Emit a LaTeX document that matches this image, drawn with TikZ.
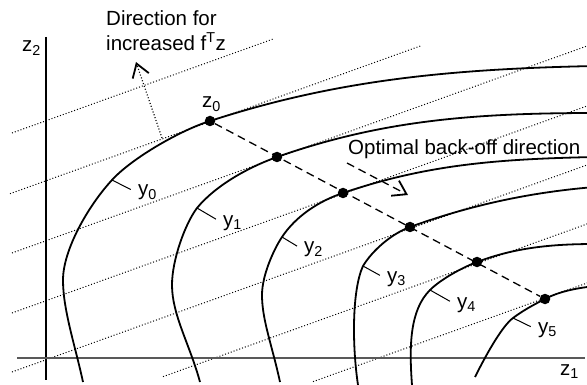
\documentclass[tikz,border=0pt]{standalone}
\usepackage{fontspec}
\setmainfont{Liberation Sans}
\usepackage{xcolor}
\usetikzlibrary{arrows.meta}
\definecolor{axisgray}{HTML}{595959}

\begin{document}
\begin{tikzpicture}[x=1pt, y=-1pt,
  lbl/.style={font=\fontsize{20.5}{25}\selectfont, inner sep=1pt},
  curve/.style={line width=1.8pt, line join=round},
  level/.style={line width=1pt, dash pattern=on 1pt off 2pt},
  dashline/.style={line width=1.3pt, dash pattern=on 8pt off 5pt},
  pt/.style={circle, fill, inner sep=0pt, minimum size=10.5pt},
  leader/.style={line width=1pt, shorten >=7pt},
  >={Straight Barb[length=13pt, width=17pt, line width=1.8pt]}]
\useasboundingbox (0,0) rectangle (587,385);
\clip (0,0) rectangle (587,385);
\foreach \c/\s/\e in {133/12/273, 193/10/422, 253/12/600, 313/12/600,
                      372/12/600, 431/163/600, 490/313/600}
  \draw[level] (\s,{\c-0.36*(\s-12)}) -- (\e,{\c-0.36*(\e-12)});
\draw[line width=1.4pt] (46,37) -- (46,380);
\draw[line width=2pt, axisgray] (17,358) -- (585,358);
\draw[curve] (83,382) .. controls (75,345) and (63,310) .. (63,280)
  .. controls (63,250) and (88,206) .. (112,180) coordinate (c0)
  .. controls (132,158) and (181,130) .. (210,121)
  .. controls (333,81) and (445,69) .. (595,66);
\draw[curve] (200,382) .. controls (190,345) and (172,315) .. (172,285)
  .. controls (172,260) and (185,224) .. (197,208) coordinate (c1)
  .. controls (216,185) and (249,167) .. (277,157)
  .. controls (380,121) and (470,113) .. (595,113);
\draw[curve] (280,382) .. controls (272,345) and (262,320) .. (262,295)
  .. controls (262,275) and (274,249) .. (282,237) coordinate (c2)
  .. controls (296,216) and (319,201) .. (343,193)
  .. controls (428,164) and (500,159) .. (595,157);
\draw[curve] (358,385) .. controls (352,345) and (352,290) .. (363,266)
  coordinate (c3)
  .. controls (372,251) and (391,234) .. (410,227)
  .. controls (460,209) and (520,193) .. (595,187);
\draw[curve] (412,385) .. controls (409,345) and (410,310) .. (430,290)
  coordinate (c4)
  .. controls (440.5,279.5) and (462,267.6) .. (477,262)
  .. controls (514,248) and (550,244) .. (595,244);
\draw[curve] (475,377) .. controls (484,359) and (501,327) .. (513,318)
  coordinate (c5)
  .. controls (522.6,310.8) and (533,305) .. (545,299)
  .. controls (560,291) and (578,288) .. (595,286);
\node[pt] (z0) at (210,121) {};
\node[pt] (b1) at (277,157) {};
\node[pt] (b2) at (343,193) {};
\node[pt] (b3) at (410,227) {};
\node[pt] (b4) at (477,262) {};
\node[pt] (b5) at (545,299) {};
\draw[dashline] (z0) -- (b5);
\node[lbl, anchor=base west] (z2lab) at (21,52) {z\textsubscript{2}};
\node[lbl, anchor=base west] (z0lab) at (201,108) {z\textsubscript{0}};
\node[lbl, anchor=base west] (z1lab) at (559,375) {z\textsubscript{1}};
\node[lbl, align=left, anchor=north west, inner sep=0pt] (dirlab) at (106,10)
  {Direction for\\increased f\textsuperscript{T}z};
\node[lbl, anchor=base west] (optlab) at (347,155) {Optimal back-off direction};
\node[lbl, anchor=base west] (y0) at (137,196) {y\textsubscript{0}};
\node[lbl, anchor=base west] (y1) at (222,226) {y\textsubscript{1}};
\node[lbl, anchor=base west] (y2) at (303,253) {y\textsubscript{2}};
\node[lbl, anchor=base west] (y3) at (386,282) {y\textsubscript{3}};
\node[lbl, anchor=base west] (y4) at (456,308) {y\textsubscript{4}};
\node[lbl, anchor=base west] (y5) at (537,333) {y\textsubscript{5}};
\foreach \i in {0,...,5}
  \draw[leader] (c\i) -- (y\i.west);
\coordinate (fa) at (162,138);
\coordinate (fb) at (136,62);
\draw[level, line width=1.2pt, ->] (fa) -- (fb);
\coordinate (ba) at (347,163);
\coordinate (bb) at (408,195);
\draw[dashline, ->] (ba) -- (bb);
\end{tikzpicture}
\end{document}
